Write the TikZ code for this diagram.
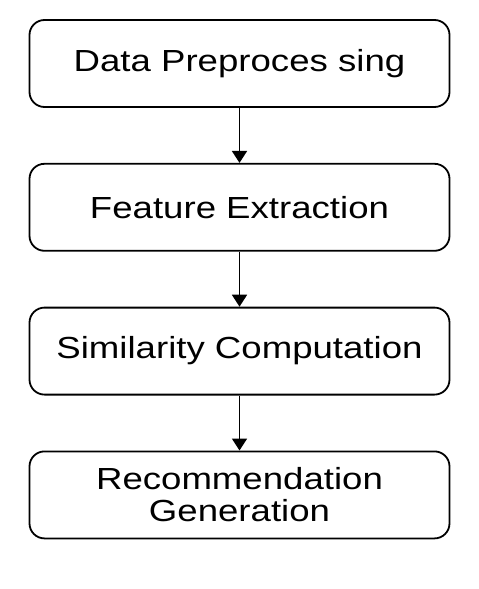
\documentclass[tikz,border=0pt]{standalone}
\usepackage{fontspec}
\setmainfont[FakeStretch=1.2]{Liberation Sans}
\usetikzlibrary{positioning,arrows.meta}
\tikzset{
  node-box/.style={draw=black,line width=1.8pt,rounded corners=15pt,
    minimum height=87pt,minimum width=420pt,align=center,
    font=\fontsize{30.5pt}{32pt}\selectfont},
  arrow/.style={-{Triangle[length=12pt,width=15pt]},line width=1.8pt,draw=black},
}

\begin{document}
\begin{tikzpicture}[node distance=55pt]
  \useasboundingbox (0pt,0pt) rectangle (479pt,-589pt);
  \node[node-box] (prep) at (239.5pt,-63.5pt) {Data Preproces sing};
  \node[node-box,below=of prep] (feat) {Feature Extraction};
  \node[node-box,below=of feat] (sim) {Similarity Computation};
  \node[node-box,below=of sim] (rec) {Recommendation\\Generation};
  \draw[arrow] (prep) -- (feat);
  \draw[arrow] (feat) -- (sim);
  \draw[arrow] (sim) -- (rec);
\end{tikzpicture}
\end{document}
